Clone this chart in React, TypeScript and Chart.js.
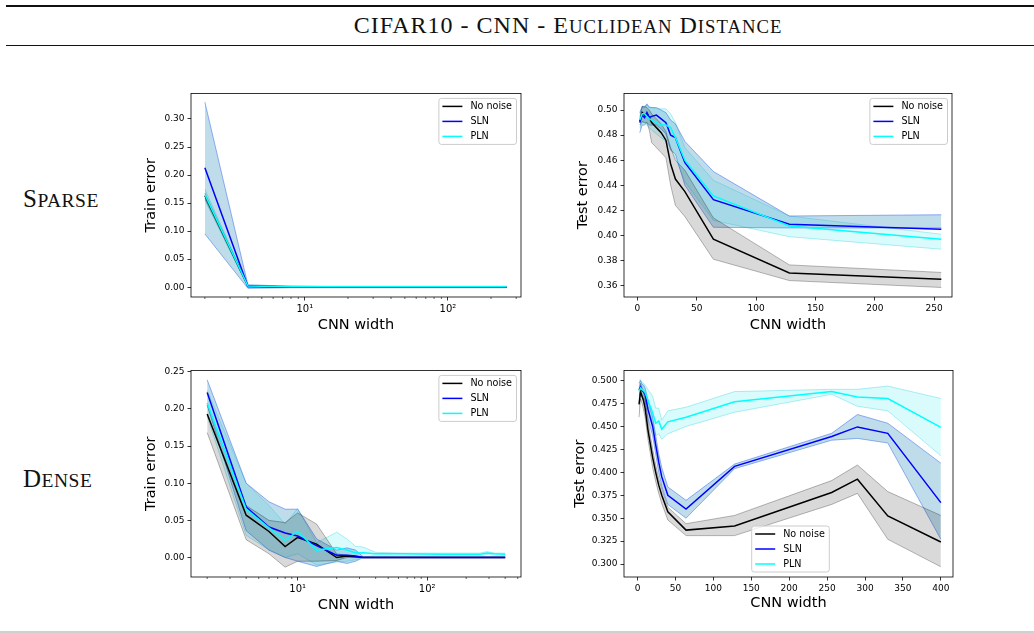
import React, { useEffect, useRef } from "react";
import { Chart, registerables } from "chart.js";
Chart.register(...registerables);

// ---------------- DATA ----------------
// Sparse / train error (log x)
const sparseTrainX = [2, 4, 8, 16, 32, 64, 128, 256];
const sparseTrainNoNoise = [0.163, 0.002, 0.0005, 0, 0, 0, 0, 0];
const sparseTrainNoNoiseHi = [0.168, 0.003, 0.001, 0.0005, 0.0005, 0.0005, 0.0005, 0.0005];
const sparseTrainNoNoiseLo = [0.158, 0.001, 0, 0, 0, 0, 0, 0];
const sparseTrainSLN = [0.213, 0.001, 0, 0, 0, 0, 0, 0];
const sparseTrainSLNHi = [0.33, 0.004, 0.002, 0.001, 0.001, 0.001, 0.001, 0.001];
const sparseTrainSLNLo = [0.095, -0.002, -0.001, -0.001, -0.001, -0.001, -0.001, -0.001];
const sparseTrainPLN = [0.165, 0.002, 0.001, 0.001, 0.001, 0.001, 0.001, 0.001];
const sparseTrainPLNHi = [0.175, 0.004, 0.002, 0.002, 0.002, 0.002, 0.002, 0.002];
const sparseTrainPLNLo = [0.155, 0.0, 0.0, 0.0, 0.0, 0.0, 0.0, 0.0];

// Sparse / test error (linear x)
const sparseTestX = [2, 4, 6, 8, 10, 12, 16, 20, 24, 28, 32, 40, 64, 128, 256];
const sparseTestNoNoise = [0.491, 0.498, 0.496, 0.497, 0.494, 0.49, 0.486, 0.482, 0.476, 0.457, 0.445, 0.435, 0.397, 0.37, 0.365];
const sparseTestNoNoiseHi = [0.494, 0.503, 0.503, 0.502, 0.5, 0.497, 0.493, 0.489, 0.483, 0.47, 0.46, 0.452, 0.414, 0.3765, 0.3705];
const sparseTestNoNoiseLo = [0.488, 0.491, 0.49, 0.49, 0.484, 0.474, 0.47, 0.466, 0.462, 0.44, 0.424, 0.415, 0.381, 0.364, 0.3585];
const sparseTestSLN = [0.49, 0.496, 0.494, 0.498, 0.494, 0.495, 0.496, 0.493, 0.49, 0.48, 0.478, 0.458, 0.4285, 0.409, 0.405];
const sparseTestSLNHi = [0.498, 0.503, 0.502, 0.505, 0.502, 0.502, 0.502, 0.5, 0.498, 0.492, 0.489, 0.475, 0.451, 0.4155, 0.4165];
const sparseTestSLNLo = [0.482, 0.488, 0.488, 0.49, 0.488, 0.488, 0.488, 0.485, 0.481, 0.468, 0.465, 0.44, 0.4065, 0.406, 0.406];
const sparseTestPLN = [0.492, 0.497, 0.497, 0.495, 0.493, 0.492, 0.49, 0.488, 0.488, 0.486, 0.478, 0.46, 0.4315, 0.4075, 0.397];
const sparseTestPLNHi = [0.497, 0.502, 0.503, 0.504, 0.503, 0.502, 0.501, 0.501, 0.501, 0.497, 0.49, 0.47, 0.444, 0.4155, 0.401];
const sparseTestPLNLo = [0.486, 0.49, 0.49, 0.488, 0.486, 0.484, 0.481, 0.478, 0.475, 0.47, 0.462, 0.443, 0.412, 0.399, 0.389];

// Dense widths
const denseX = [2, 4, 6, 8, 10, 14, 20, 24, 28, 32, 40, 64, 128, 256, 290, 330, 400];
// Dense / train error (log x)
const denseTrainNoNoise = [0.193, 0.057, 0.035, 0.0147, 0.027, 0.018, 0.0, 0.002, 0.001, 0, 0, 0, 0, 0, 0, 0, 0];
const denseTrainNoNoiseHi = [0.205, 0.07, 0.05, 0.047, 0.06, 0.045, 0.005, 0.003, 0.002, 0.0005, 0.0005, 0.0005, 0.0005, 0.0005, 0.0005, 0.0005, 0.0005];
const denseTrainNoNoiseLo = [0.168, 0.024, 0.005, -0.013, -0.005, -0.005, -0.004, 0, 0, 0, 0, 0, 0, 0, 0, 0, 0];
const denseTrainSLN = [0.222, 0.068, 0.041, 0.033, 0.029, 0.016, 0.003, 0.003, 0.002, 0, 0, 0, 0, 0, 0, 0, 0];
const denseTrainSLNHi = [0.239, 0.1, 0.075, 0.065, 0.065, 0.025, 0.01, 0.013, 0.01, 0.001, 0.001, 0.001, 0.001, 0.001, 0.001, 0.001, 0.001];
const denseTrainSLNLo = [0.205, 0.036, 0.01, 0.0, -0.005, -0.012, -0.005, -0.008, -0.005, 0, 0, 0, 0, 0, 0, 0, 0];
const denseTrainPLN = [0.208, 0.065, 0.04, 0.023, 0.0355, 0.01, 0.0135, 0.01, 0.006, 0.0065, 0.005, 0.005, 0.0045, 0.0045, 0.006, 0.005, 0.0045];
const denseTrainPLNHi = [0.225, 0.1, 0.07, 0.045, 0.066, 0.02, 0.034, 0.025, 0.015, 0.014, 0.007, 0.006, 0.006, 0.006, 0.008, 0.006, 0.006];
const denseTrainPLNLo = [0.19, 0.03, 0.01, 0.0, 0.005, -0.01, -0.006, -0.005, -0.003, 0.0, 0.003, 0.003, 0.003, 0.003, 0.004, 0.003, 0.003];

// Dense / test error (linear x)
const denseTestNoNoise = [0.474, 0.488, 0.483, 0.478, 0.47, 0.445, 0.416, 0.4, 0.386, 0.375, 0.357, 0.337, 0.3415, 0.378, 0.3925, 0.3525, 0.324];
const denseTestNoNoiseHi = [0.49, 0.497, 0.492, 0.488, 0.48, 0.455, 0.425, 0.408, 0.393, 0.382, 0.362, 0.344, 0.353, 0.391, 0.408, 0.379, 0.353];
const denseTestNoNoiseLo = [0.46, 0.48, 0.475, 0.468, 0.46, 0.435, 0.405, 0.39, 0.377, 0.366, 0.348, 0.331, 0.331, 0.365, 0.377, 0.327, 0.297];
const denseTestSLN = [0.49, 0.493, 0.489, 0.488, 0.485, 0.468, 0.45, 0.43, 0.411, 0.395, 0.375, 0.36, 0.4065, 0.439, 0.4495, 0.4425, 0.367];
const denseTestSLNHi = [0.497, 0.5, 0.496, 0.495, 0.492, 0.478, 0.46, 0.44, 0.42, 0.405, 0.384, 0.3695, 0.409, 0.4425, 0.463, 0.4535, 0.41];
const denseTestSLNLo = [0.484, 0.486, 0.482, 0.481, 0.478, 0.458, 0.44, 0.42, 0.4, 0.385, 0.365, 0.35, 0.404, 0.435, 0.437, 0.432, 0.327];
const denseTestPLN = [0.488, 0.492, 0.49, 0.489, 0.487, 0.478, 0.465, 0.4535, 0.456, 0.447, 0.455, 0.46, 0.477, 0.488, 0.482, 0.4805, 0.449];
const denseTestPLNHi = [0.5, 0.501, 0.498, 0.497, 0.495, 0.49, 0.483, 0.47, 0.47, 0.457, 0.467, 0.471, 0.488, 0.4905, 0.4905, 0.494, 0.4805];
const denseTestPLNLo = [0.48, 0.484, 0.482, 0.481, 0.479, 0.468, 0.455, 0.44, 0.442, 0.436, 0.442, 0.45, 0.4655, 0.485, 0.472, 0.467, 0.418];

// Ticks
const trainTicksSparse = [0, 0.05, 0.1, 0.15, 0.2, 0.25, 0.3];
const trainTicksDense = [0, 0.05, 0.1, 0.15, 0.2, 0.25];
const testTicksSparse = [0.36, 0.38, 0.4, 0.42, 0.44, 0.46, 0.48, 0.5];
const testTicksDense = [0.3, 0.325, 0.35, 0.375, 0.4, 0.425, 0.45, 0.475, 0.5];
const logXTicks = [10, 100];
const logXTickLabels = ["10¹", "10²"];
const linXTicksSparse = [0, 50, 100, 150, 200, 250];
const linXTicksDense = [0, 50, 100, 150, 200, 250, 300, 350, 400];

const seriesLabels = ["No noise", "SLN", "PLN"];

// ---------------- STYLE ----------------
const FONT = "DejaVu Sans";
const STYLES = [
  { line: "#000000", fill: "rgba(0,0,0,0.15)", edge: "rgba(0,0,0,0.28)" },
  { line: "#0000ff", fill: "rgba(60,150,190,0.33)", edge: "rgba(50,100,240,0.5)" },
  { line: "#00ffff", fill: "rgba(0,225,230,0.15)", edge: "rgba(0,200,220,0.3)" },
];

type Series = { mean: number[]; hi: number[]; lo: number[] };

type PanelCfg = {
  x: number[];
  series: Series[];
  logX: boolean;
  xMin: number;
  xMax: number;
  xTicks: number[];
  xTickLabels?: string[];
  yMin: number;
  yMax: number;
  yTicks: number[];
  yDecimals: number;
  yTitle: string;
  canvas: { left: number; top: number; width: number; height: number };
  plot: { left: number; top: number; right: number; bottom: number };
  yTitlePad: number;
  xTitlePad: number;
  legend: "ur" | "lc";
};

function buildDatasets(x: number[], series: Series[]) {
  const ds: any[] = [];
  series.forEach((s, i) => {
    const st = STYLES[i];
    ds.push({
      label: seriesLabels[i],
      data: x.map((xv, k) => ({ x: xv, y: s.mean[k] })),
      borderColor: st.line,
      borderWidth: 1.5,
      fill: false,
      order: 2 - i,
    });
  });
  series.forEach((s, i) => {
    const st = STYLES[i];
    ds.push({
      label: seriesLabels[i] + " hi",
      data: x.map((xv, k) => ({ x: xv, y: s.hi[k] })),
      borderColor: st.edge,
      borderWidth: 1,
      backgroundColor: st.fill,
      fill: "+1",
      order: 10 + i * 2,
    });
    ds.push({
      label: seriesLabels[i] + " lo",
      data: x.map((xv, k) => ({ x: xv, y: s.lo[k] })),
      borderColor: st.edge,
      borderWidth: 1,
      fill: false,
      order: 10 + i * 2,
    });
  });
  return ds;
}

function makePlugin(cfg: PanelCfg) {
  return {
    id: "mplDecor",
    afterDatasetsDraw(chart: any) {
      const ctx = chart.ctx;
      const a = chart.chartArea;
      if (cfg.logX) {
        const xs = chart.scales.x;
        ctx.save();
        ctx.strokeStyle = "#000";
        ctx.lineWidth = 0.6;
        for (let dec = 1; dec <= 1000; dec *= 10) {
          for (let m = 2; m <= 9; m++) {
            const v = m * dec;
            if (v < cfg.xMin || v > cfg.xMax) continue;
            const px = xs.getPixelForValue(v);
            ctx.beginPath();
            ctx.moveTo(px, a.bottom);
            ctx.lineTo(px, a.bottom + 2);
            ctx.stroke();
          }
        }
        ctx.restore();
      }
      ctx.save();
      ctx.strokeStyle = "#000";
      ctx.lineWidth = 0.8;
      ctx.strokeRect(a.left, a.top, a.right - a.left, a.bottom - a.top);
      ctx.restore();
    },
    afterDraw(chart: any) {
      const ctx = chart.ctx;
      const a = chart.chartArea;
      const fs = 9.6;
      ctx.save();
      ctx.font = `${fs}px "${FONT}"`;
      const tw = Math.max(...seriesLabels.map((l) => ctx.measureText(l).width));
      const padL = 3.5, handle = 20, gap = 8, padR = 4.5;
      const w = padL + handle + gap + tw + padR;
      const h = 46;
      let bx: number, by: number;
      if (cfg.legend === "ur") {
        bx = a.right - 4.5 - w;
        by = a.top + 5;
      } else {
        bx = (a.left + a.right) / 2 + 2 - w / 2;
        by = a.bottom - 5 - h;
      }
      const r = 2.5;
      ctx.beginPath();
      ctx.moveTo(bx + r, by);
      ctx.lineTo(bx + w - r, by);
      ctx.arcTo(bx + w, by, bx + w, by + r, r);
      ctx.lineTo(bx + w, by + h - r);
      ctx.arcTo(bx + w, by + h, bx + w - r, by + h, r);
      ctx.lineTo(bx + r, by + h);
      ctx.arcTo(bx, by + h, bx, by + h - r, r);
      ctx.lineTo(bx, by + r);
      ctx.arcTo(bx, by, bx + r, by, r);
      ctx.closePath();
      ctx.fillStyle = "rgba(255,255,255,0.8)";
      ctx.fill();
      ctx.strokeStyle = "#cccccc";
      ctx.lineWidth = 1;
      ctx.stroke();
      seriesLabels.forEach((l, i) => {
        const cy = by + 8 + i * 15;
        ctx.strokeStyle = STYLES[i].line;
        ctx.lineWidth = 1.5;
        ctx.beginPath();
        ctx.moveTo(bx + padL, cy);
        ctx.lineTo(bx + padL + handle, cy);
        ctx.stroke();
        ctx.fillStyle = "#000";
        ctx.textBaseline = "middle";
        ctx.textAlign = "left";
        ctx.fillText(l, bx + padL + handle + gap, cy + 0.5);
      });
      ctx.restore();
    },
  };
}

function Panel({ cfg }: { cfg: PanelCfg }) {
  const ref = useRef<HTMLCanvasElement>(null);
  useEffect(() => {
    if (!ref.current) return;
    const c = cfg.canvas;
    const p = cfg.plot;
    const tickFont = { family: FONT, size: 9 };
    const titleFont = { family: FONT, size: 14.5 };
    const chart = new Chart(ref.current, {
      type: "line",
      data: { datasets: buildDatasets(cfg.x, cfg.series) },
      plugins: [makePlugin(cfg)],
      options: {
        animation: false,
        responsive: false,
        maintainAspectRatio: false,
        events: [],
        layout: {
          padding: {
            left: 0,
            top: p.top - c.top,
            right: c.left + c.width - p.right,
            bottom: 0,
          },
        },
        elements: { point: { radius: 0 }, line: { tension: 0 } },
        plugins: { legend: { display: false }, tooltip: { enabled: false } },
        scales: {
          x: {
            type: cfg.logX ? "logarithmic" : "linear",
            min: cfg.xMin,
            max: cfg.xMax,
            afterBuildTicks: (s: any) => {
              s.ticks = cfg.xTicks.map((v) => ({ value: v }));
            },
            afterFit: (s: any) => {
              s.height = c.top + c.height - p.bottom;
            },
            ticks: {
              autoSkip: false,
              maxRotation: 0,
              padding: 2.5,
              color: "#000",
              font: cfg.logX ? { family: FONT, size: 10 } : tickFont,
              callback: (v: any) => {
                const i = cfg.xTicks.indexOf(Number(v));
                if (i < 0) return "";
                return cfg.xTickLabels ? cfg.xTickLabels[i] : String(v);
              },
            },
            grid: { display: true, drawOnChartArea: false, drawTicks: true, tickLength: 3.5, color: "#000", lineWidth: 0.8 },
            border: { display: false },
            title: { display: true, text: "CNN width", color: "#000", font: titleFont, padding: { top: 0, bottom: cfg.xTitlePad } },
          },
          y: {
            type: "linear",
            min: cfg.yMin,
            max: cfg.yMax,
            afterBuildTicks: (s: any) => {
              s.ticks = cfg.yTicks.map((v) => ({ value: v }));
            },
            afterFit: (s: any) => {
              s.width = p.left - c.left;
            },
            ticks: {
              padding: 3,
              color: "#000",
              font: tickFont,
              callback: (v: any) => Number(v).toFixed(cfg.yDecimals),
            },
            grid: { display: true, drawOnChartArea: false, drawTicks: true, tickLength: 3.5, color: "#000", lineWidth: 0.8 },
            border: { display: false },
            title: { display: true, text: cfg.yTitle, color: "#000", font: titleFont, padding: { top: cfg.yTitlePad, bottom: 0 } },
          },
        },
      } as any,
    });
    return () => chart.destroy();
  }, [cfg]);
  const c = cfg.canvas;
  return (
    <canvas
      ref={ref}
      width={c.width}
      height={c.height}
      style={{ position: "absolute", left: c.left, top: c.top, width: c.width, height: c.height }}
    />
  );
}

const panels: PanelCfg[] = [
  {
    x: sparseTrainX,
    series: [
      { mean: sparseTrainNoNoise, hi: sparseTrainNoNoiseHi, lo: sparseTrainNoNoiseLo },
      { mean: sparseTrainSLN, hi: sparseTrainSLNHi, lo: sparseTrainSLNLo },
      { mean: sparseTrainPLN, hi: sparseTrainPLNHi, lo: sparseTrainPLNLo },
    ],
    logX: true,
    xMin: 1.6,
    xMax: 324,
    xTicks: logXTicks,
    xTickLabels: logXTickLabels,
    yMin: -0.0175,
    yMax: 0.3456,
    yTicks: trainTicksSparse,
    yDecimals: 2,
    yTitle: "Train error",
    canvas: { left: 130, top: 85, width: 400, height: 255 },
    plot: { left: 191, top: 90, right: 521, bottom: 297 },
    yTitlePad: 13,
    xTitlePad: 6.3,
    legend: "ur",
  },
  {
    x: sparseTestX,
    series: [
      { mean: sparseTestNoNoise, hi: sparseTestNoNoiseHi, lo: sparseTestNoNoiseLo },
      { mean: sparseTestSLN, hi: sparseTestSLNHi, lo: sparseTestSLNLo },
      { mean: sparseTestPLN, hi: sparseTestPLNHi, lo: sparseTestPLNLo },
    ],
    logX: false,
    xMin: -11.3,
    xMax: 265,
    xTicks: linXTicksSparse,
    yMin: 0.3509,
    yMax: 0.5133,
    yTicks: testTicksSparse,
    yDecimals: 2,
    yTitle: "Test error",
    canvas: { left: 560, top: 85, width: 400, height: 255 },
    plot: { left: 624, top: 90, right: 952, bottom: 297 },
    yTitlePad: 14.3,
    xTitlePad: 6.3,
    legend: "ur",
  },
  {
    x: denseX,
    series: [
      { mean: denseTrainNoNoise, hi: denseTrainNoNoiseHi, lo: denseTrainNoNoiseLo },
      { mean: denseTrainSLN, hi: denseTrainSLNHi, lo: denseTrainSLNLo },
      { mean: denseTrainPLN, hi: denseTrainPLNHi, lo: denseTrainPLNLo },
    ],
    logX: true,
    xMin: 1.5,
    xMax: 530,
    xTicks: logXTicks,
    xTickLabels: logXTickLabels,
    yMin: -0.0262,
    yMax: 0.2517,
    yTicks: trainTicksDense,
    yDecimals: 2,
    yTitle: "Train error",
    canvas: { left: 130, top: 362, width: 400, height: 258 },
    plot: { left: 191, top: 369, right: 521, bottom: 577 },
    yTitlePad: 13,
    xTitlePad: 6.3,
    legend: "ur",
  },
  {
    x: denseX,
    series: [
      { mean: denseTestNoNoise, hi: denseTestNoNoiseHi, lo: denseTestNoNoiseLo },
      { mean: denseTestSLN, hi: denseTestSLNHi, lo: denseTestSLNLo },
      { mean: denseTestPLN, hi: denseTestPLNHi, lo: denseTestPLNLo },
    ],
    logX: false,
    xMin: -17.8,
    xMax: 416,
    xTicks: linXTicksDense,
    yMin: 0.2859,
    yMax: 0.5111,
    yTicks: testTicksDense,
    yDecimals: 3,
    yTitle: "Test error",
    canvas: { left: 560, top: 362, width: 400, height: 258 },
    plot: { left: 624, top: 369, right: 953, bottom: 577 },
    yTitlePad: 11.3,
    xTitlePad: 8,
    legend: "lc",
  },
];

const SERIF = '"Liberation Serif", "Times New Roman", serif';

function SC({ first, rest }: { first: string; rest: string }) {
  return (
    <>
      {first}
      <span style={{ fontSize: "0.78em", textTransform: "uppercase" }}>{rest}</span>
    </>
  );
}

export default function App() {
  return (
    <div style={{ position: "absolute", left: 0, top: 0, width: 1034, height: 633, background: "#fff", overflow: "hidden" }}>
      <div style={{ position: "absolute", left: 6, right: 0, top: 5, height: 1.5, background: "#111" }} />
      <div style={{ position: "absolute", left: 6, right: 0, top: 44.5, height: 1.8, background: "#111" }} />
      <div
        style={{
          position: "absolute",
          left: 0,
          width: 1136,
          top: 13,
          textAlign: "center",
          fontFamily: SERIF,
          fontSize: 24,
          letterSpacing: 1,
          lineHeight: "24px",
          color: "#111",
          whiteSpace: "nowrap",
        }}
      >
        CIFAR10 - CNN - <SC first="E" rest="uclidean" /> <SC first="D" rest="istance" />
      </div>
      <div style={{ position: "absolute", left: 23, top: 186, fontFamily: SERIF, fontSize: 25, lineHeight: "25px", letterSpacing: 0.5, color: "#111", whiteSpace: "nowrap" }}>
        <SC first="S" rest="parse" />
      </div>
      <div style={{ position: "absolute", left: 23, top: 466, fontFamily: SERIF, fontSize: 25, lineHeight: "25px", letterSpacing: 0.5, color: "#111", whiteSpace: "nowrap" }}>
        <SC first="D" rest="ense" />
      </div>
      {panels.map((cfg, i) => (
        <Panel key={i} cfg={cfg} />
      ))}
      <div style={{ position: "absolute", left: 0, right: 0, top: 631, height: 1.5, background: "#d0d0d0" }} />
    </div>
  );
}
